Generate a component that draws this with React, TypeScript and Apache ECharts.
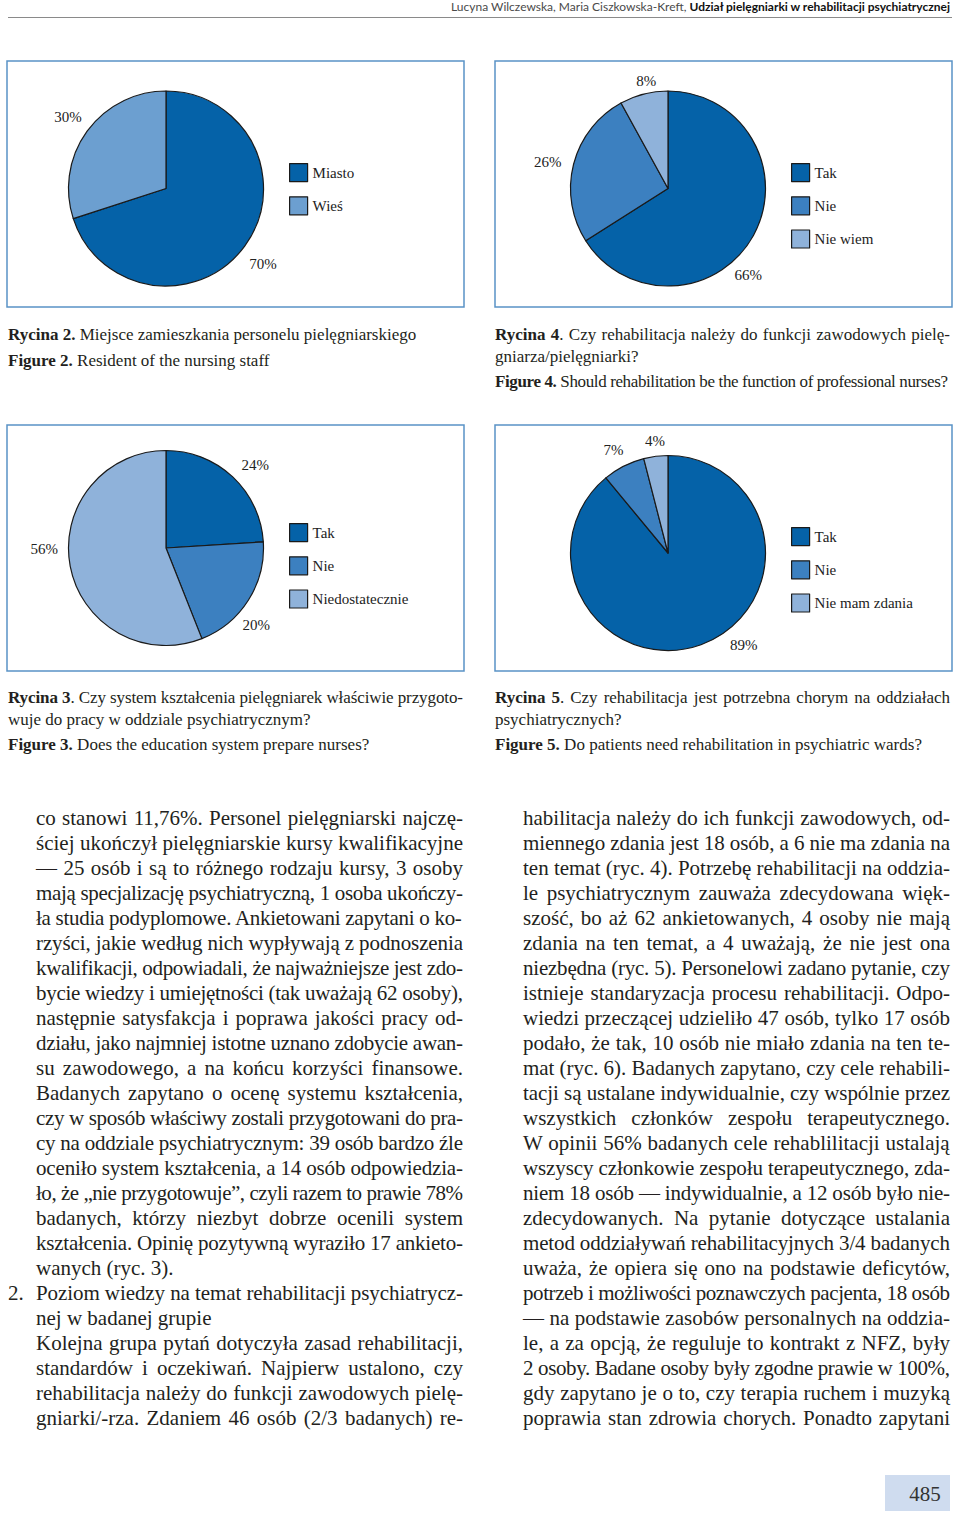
import React, { useEffect, useRef } from "react";
import * as echarts from "echarts";

// ---------- DATA ----------
const pie1Names = ["Miasto", "Wieś"];
const pie1Values = [70, 30];
const pie2Names = ["Tak", "Nie", "Nie wiem"];
const pie2Values = [66, 26, 8];
const pie3Names = ["Tak", "Nie", "Niedostatecznie"];
const pie3Values = [24, 20, 56];
const pie4Names = ["Tak", "Nie", "Nie mam zdania"];
const pie4Values = [89, 7, 4];

const DARK = "#0562a8";
const MED = "#3c80c0";
const LIGHT = "#8fb2da";
const WIES = "#6c9fd0";

const SERIF = '"Liberation Serif", "Times New Roman", serif';

const pies = [
  { names: pie1Names, values: pie1Values, colors: [DARK, WIES], center: [166, 188.5], legend: [289, 163], nudge: [[0, 5], [-1, -1]] },
  { names: pie2Names, values: pie2Values, colors: [DARK, MED, LIGHT], center: [668, 188.5], legend: [791, 163], nudge: [[-25, 29], [-4, 3], [8, 9]] },
  { names: pie3Names, values: pie3Values, colors: [DARK, MED, LIGHT], center: [166, 548], legend: [289, 523], nudge: [[7, 4], [-11, 13], [-4, -21]] },
  { names: pie4Names, values: pie4Values, colors: [DARK, MED, LIGHT], center: [668, 553], legend: [791, 527], nudge: [[35, -21], [0, 4], [2, 7]] },
];

const boxes = [
  [7, 61], [495, 61], [7, 425], [495, 425],
];

// ---------- TEXT ----------
type Seg = { t: string; b?: boolean };

const captions: { segs: Seg[]; x: number; base: number; w?: number }[] = [
  { segs: [{ t: "Rycina 2.", b: true }, { t: " Miejsce zamieszkania personelu pielęgniarskiego" }], x: 8, base: 341 },
  { segs: [{ t: "Figure 2.", b: true }, { t: " Resident of the nursing staff" }], x: 8, base: 367 },
  { segs: [{ t: "Rycina 4", b: true }, { t: ". Czy rehabilitacja należy do funkcji zawodowych pielę-" }], x: 495, base: 341, w: 455 },
  { segs: [{ t: "gniarza/pielęgniarki?" }], x: 495, base: 363 },
  { segs: [{ t: "Figure 4.", b: true }, { t: " Should rehabilitation be the function of professional nurses?" }], x: 495, base: 388, w: 453 },
  { segs: [{ t: "Rycina 3", b: true }, { t: ". Czy system kształcenia pielęgniarek właściwie przygoto-" }], x: 8, base: 704, w: 455 },
  { segs: [{ t: "wuje do pracy w oddziale psychiatrycznym?" }], x: 8, base: 726 },
  { segs: [{ t: "Figure 3.", b: true }, { t: " Does the education system prepare nurses?" }], x: 8, base: 751 },
  { segs: [{ t: "Rycina 5", b: true }, { t: ". Czy rehabilitacja jest potrzebna chorym na oddziałach" }], x: 495, base: 704, w: 455 },
  { segs: [{ t: "psychiatrycznych?" }], x: 495, base: 726 },
  { segs: [{ t: "Figure 5.", b: true }, { t: " Do patients need rehabilitation in psychiatric wards?" }], x: 495, base: 751 },
];

const leftLines = [
  "co stanowi 11,76%. Personel pielęgniarski najczę-",
  "ściej ukończył pielęgniarskie kursy kwalifikacyjne",
  "— 25 osób i są to różnego rodzaju kursy, 3 osoby",
  "mają specjalizację psychiatryczną, 1 osoba ukończy-",
  "ła studia podyplomowe. Ankietowani zapytani o ko-",
  "rzyści, jakie według nich wypływają z podnoszenia",
  "kwalifikacji, odpowiadali, że najważniejsze jest zdo-",
  "bycie wiedzy i umiejętności (tak uważają 62 osoby),",
  "następnie satysfakcja i poprawa jakości pracy od-",
  "działu, jako najmniej istotne uznano zdobycie awan-",
  "su zawodowego, a na końcu korzyści finansowe.",
  "Badanych zapytano o ocenę systemu kształcenia,",
  "czy w sposób właściwy zostali przygotowani do pra-",
  "cy na oddziale psychiatrycznym: 39 osób bardzo źle",
  "oceniło system kształcenia, a 14 osób odpowiedzia-",
  "ło, że „nie przygotowuje”, czyli razem to prawie 78%",
  "badanych, którzy niezbyt dobrze ocenili system",
  "kształcenia. Opinię pozytywną wyraziło 17 ankieto-",
  "wanych (ryc. 3).",
  "Poziom wiedzy na temat rehabilitacji psychiatrycz-",
  "nej w badanej grupie",
  "Kolejna grupa pytań dotyczyła zasad rehabilitacji,",
  "standardów i oczekiwań. Najpierw ustalono, czy",
  "rehabilitacja należy do funkcji zawodowych pielę-",
  "gniarki/-rza. Zdaniem 46 osób (2/3 badanych) re-",
];
const leftRagged = [18, 20];

const rightLines = [
  "habilitacja należy do ich funkcji zawodowych, od-",
  "miennego zdania jest 18 osób, a 6 nie ma zdania na",
  "ten temat (ryc. 4). Potrzebę rehabilitacji na oddzia-",
  "le psychiatrycznym zauważa zdecydowana więk-",
  "szość, bo aż 62 ankietowanych, 4 osoby nie mają",
  "zdania na ten temat, a 4 uważają, że nie jest ona",
  "niezbędna (ryc. 5). Personelowi zadano pytanie, czy",
  "istnieje standaryzacja procesu rehabilitacji. Odpo-",
  "wiedzi przeczącej udzieliło 47 osób, tylko 17 osób",
  "podało, że tak, 10 osób nie miało zdania na ten te-",
  "mat (ryc. 6). Badanych zapytano, czy cele rehabili-",
  "tacji są ustalane indywidualnie, czy wspólnie przez",
  "wszystkich członków zespołu terapeutycznego.",
  "W opinii 56% badanych cele rehablilitacji ustalają",
  "wszyscy członkowie zespołu terapeutycznego, zda-",
  "niem 18 osób — indywidualnie, a 12 osób było nie-",
  "zdecydowanych. Na pytanie dotyczące ustalania",
  "metod oddziaływań rehabilitacyjnych 3/4 badanych",
  "uważa, że opiera się ono na podstawie deficytów,",
  "potrzeb i możliwości poznawczych pacjenta, 18 osób",
  "— na podstawie zasobów personalnych na oddzia-",
  "le, a za opcją, że reguluje to kontrakt z NFZ, były",
  "2 osoby. Badane osoby były zgodne prawie w 100%,",
  "gdy zapytano je o to, czy terapia ruchem i muzyką",
  "poprawia stan zdrowia chorych. Ponadto zapytani",
];

// ---------- helpers ----------
let _ctx: CanvasRenderingContext2D | null = null;
function textWidth(s: string, size: number, bold: boolean, family: string) {
  if (!_ctx) _ctx = document.createElement("canvas").getContext("2d");
  const c = _ctx as CanvasRenderingContext2D;
  c.font = `${bold ? "bold " : ""}${size}px ${family}`;
  return c.measureText(s).width;
}

function Line(props: { segs: Seg[]; x: number; base: number; size: number; width?: number; family?: string; color?: string }) {
  const { segs, x, base, size, width } = props;
  const family = props.family || SERIF;
  const natural = segs.reduce((a, s) => a + textWidth(s.t, size, !!s.b, family), 0);
  const spaces = segs.reduce((a, s) => a + (s.t.match(/ /g) || []).length, 0);
  const chars = segs.reduce((a, s) => a + Array.from(s.t).length, 0);
  let ws = 0;
  let ls = 0;
  if (width) {
    const extra = width - natural;
    if (extra >= 0 && spaces) ws = extra / spaces;
    else if (extra < 0) ls = extra / Math.max(1, chars - 1);
  }
  const lh = Math.round(size * 1.3);
  const top = base - ((lh - 1.107 * size) / 2 + 0.891 * size);
  return (
    <div
      style={{
        position: "absolute",
        left: x,
        top,
        whiteSpace: "pre",
        fontFamily: family,
        fontSize: size,
        lineHeight: lh + "px",
        color: props.color || "#231f20",
        wordSpacing: ws + "px",
        letterSpacing: ls + "px",
      }}
    >
      {segs.map((s, i) => (
        <span key={i} style={{ fontWeight: s.b ? "bold" : "normal" }}>
          {s.t}
        </span>
      ))}
    </div>
  );
}

function buildOption() {
  const series: any[] = [];
  const legends: any[] = [];
  pies.forEach((p) => {
    series.push({
      type: "pie",
      center: p.center,
      radius: 97.5,
      startAngle: 90,
      clockwise: true,
      silent: true,
      label: { show: false },
      labelLine: { show: false },
      itemStyle: { borderColor: "#1a1a1a", borderWidth: 1.2 },
      data: p.names.map((n, i) => ({ name: n, value: p.values[i], itemStyle: { color: p.colors[i] } })),
    });
    series.push({
      type: "pie",
      center: p.center,
      radius: [104, 130],
      startAngle: 90,
      clockwise: true,
      silent: true,
      itemStyle: { color: "rgba(0,0,0,0)", borderWidth: 0 },
      label: {
        show: true,
        position: "inside",
        formatter: "{c}%",
        fontFamily: SERIF,
        fontSize: 15,
        color: "#222",
      },
      labelLine: { show: false },
      labelLayout: (params: any) => ({ dx: p.nudge[params.dataIndex][0], dy: p.nudge[params.dataIndex][1] }),
      data: p.values.map((v) => ({ value: v })),
    });
    legends.push({
      data: p.names,
      orient: "vertical",
      left: p.legend[0],
      top: p.legend[1],
      padding: 0,
      itemWidth: 18,
      itemHeight: 18,
      itemGap: 14,
      icon: "rect",
      selectedMode: false,
      itemStyle: { borderColor: "#1a1a1a", borderWidth: 1.2 },
      textStyle: { fontFamily: SERIF, fontSize: 15, color: "#222" },
    });
  });

  const graphic: any[] = [];
  boxes.forEach((b) => {
    graphic.push({
      type: "rect",
      shape: { x: b[0], y: b[1], width: 457, height: 246 },
      style: { fill: "none", stroke: "#5a93c6", lineWidth: 1.5 },
      silent: true,
    });
  });
  graphic.push({
    type: "line",
    shape: { x1: 8, y1: 17.5, x2: 952, y2: 17.5 },
    style: { stroke: "#8a8a8a", lineWidth: 1 },
    silent: true,
  });
  graphic.push({
    type: "rect",
    shape: { x: 885, y: 1475, width: 65, height: 36 },
    style: { fill: "#cfdcef" },
    silent: true,
  });
  graphic.push({
    type: "text",
    style: {
      text: "485",
      x: 925,
      y: 1494,
      align: "center",
      verticalAlign: "middle",
      fontFamily: SERIF,
      fontSize: 21,
      fill: "#333",
    },
    silent: true,
  });

  return {
    animation: false,
    backgroundColor: "#ffffff",
    legend: legends,
    series,
    graphic,
  };
}

export default function App() {
  const ref = useRef<HTMLDivElement>(null);
  useEffect(() => {
    const chart = echarts.init(ref.current as HTMLDivElement, null, { renderer: "svg" });
    chart.setOption(buildOption() as any);
    return () => chart.dispose();
  }, []);

  return (
    <div style={{ position: "absolute", left: 0, top: 0, width: 960, height: 1519, background: "#fff", overflow: "hidden" }}>
      <div ref={ref} style={{ position: "absolute", left: 0, top: 0, width: 960, height: 1519 }} />
      <div
        style={{
          position: "absolute",
          right: 10,
          top: 0,
          whiteSpace: "pre",
          fontFamily: "Lato, 'Open Sans', sans-serif",
          fontSize: 12,
          lineHeight: "14px",
          color: "#4a4a4a",
        }}
      >
        <span>Lucyna Wilczewska, Maria Ciszkowska-Kreft, </span>
        <span style={{ fontWeight: "bold", color: "#111" }}>Udział pielęgniarki w rehabilitacji psychiatrycznej</span>
      </div>
      {captions.map((c, i) => (
        <Line key={"c" + i} segs={c.segs} x={c.x} base={c.base} size={17} width={c.w} />
      ))}
      {leftLines.map((t, i) => (
        <Line key={"l" + i} segs={[{ t }]} x={36} base={826 + 25 * i} size={21} width={leftRagged.includes(i) ? undefined : 427} />
      ))}
      <Line segs={[{ t: "2." }]} x={8} base={826 + 25 * 19} size={21} />
      {rightLines.map((t, i) => (
        <Line key={"r" + i} segs={[{ t }]} x={523} base={826 + 25 * i} size={21} width={427} />
      ))}
    </div>
  );
}
